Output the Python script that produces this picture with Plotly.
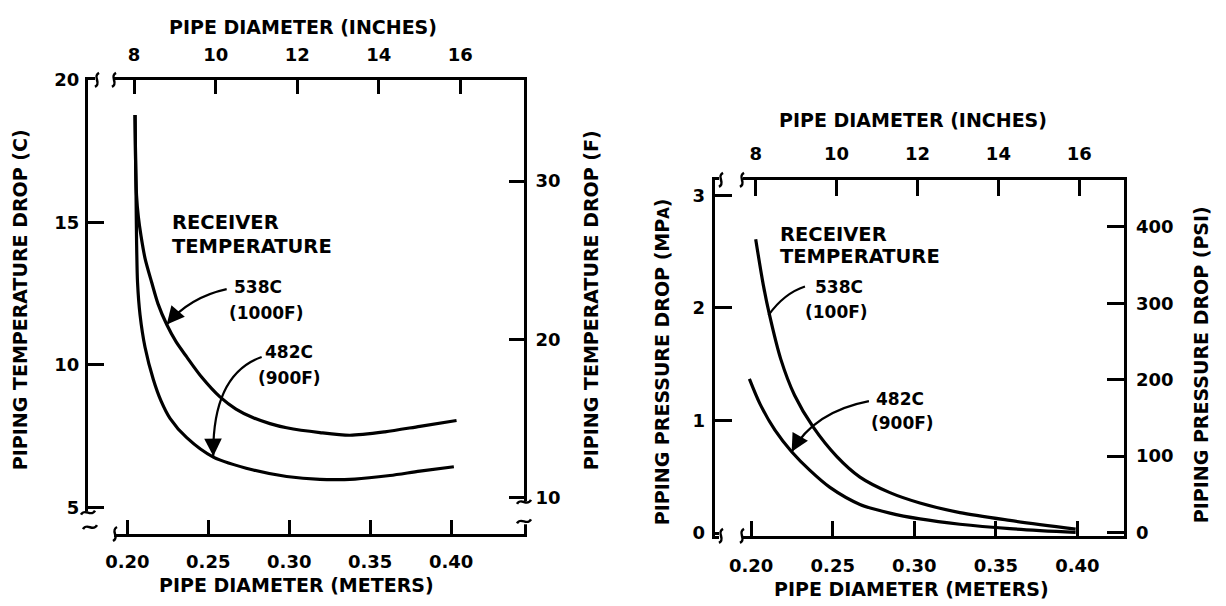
import plotly.graph_objects as go

# ---------------- data ----------------
# Left panel: piping temperature drop (C) vs pipe diameter (m)
temp_d_538 = [0.20475, 0.20506, 0.20568, 0.20679, 0.20846, 0.21093, 0.21506, 0.21895,
              0.22432, 0.23006, 0.23667, 0.24611, 0.25722, 0.26710, 0.27778, 0.28809,
              0.29840, 0.31895, 0.33747, 0.35907, 0.38068, 0.40333]
temp_c_538 = [18.765, 17.313, 15.952, 15.204, 14.524, 13.741, 12.891, 12.143,
              11.418, 10.816, 10.282, 9.558, 8.878, 8.452, 8.146, 7.942,
              7.796, 7.626, 7.534, 7.653, 7.847, 8.051]
temp_d_482 = [0.20475, 0.20506, 0.20537, 0.20568, 0.20630, 0.20784, 0.21093, 0.21605,
              0.22080, 0.22636, 0.23667, 0.25309, 0.27778, 0.29840, 0.31895, 0.34056,
              0.36216, 0.38068, 0.40167]
temp_c_482 = [18.765, 17.313, 15.952, 14.422, 12.891, 11.759, 10.622, 9.490,
              8.741, 8.129, 7.449, 6.769, 6.316, 6.088, 5.986, 5.997,
              6.122, 6.276, 6.429]

# Right panel: piping pressure drop (MPa) vs pipe diameter (m)
pres_d_538 = [0.20276, 0.20741, 0.21127, 0.21808, 0.22659, 0.23805, 0.25239, 0.26667,
              0.28505, 0.30343, 0.32794, 0.35858, 0.39890]
pres_mpa_538 = [2.610, 2.205, 1.935, 1.547, 1.224, 0.940, 0.681, 0.497,
                0.359, 0.267, 0.181, 0.112, 0.035]
pres_d_482 = [0.19890, 0.20539, 0.21458, 0.22482, 0.23603, 0.24828, 0.26667, 0.28505,
              0.30343, 0.32794, 0.35858, 0.39890]
pres_mpa_482 = [1.369, 1.147, 0.914, 0.722, 0.556, 0.405, 0.254, 0.177,
                0.125, 0.078, 0.039, 0.005]

# tick values / labels
meter_ticks = [0.20, 0.25, 0.30, 0.35, 0.40]
meter_labels = ["0.20", "0.25", "0.30", "0.35", "0.40"]
inch_ticks = [8, 10, 12, 14, 16]
c_ticks = [5, 10, 15, 20]
f_ticks = [10, 20, 30]
mpa_ticks = [0, 1, 2, 3]
psi_ticks = [0, 100, 200, 300, 400]

# ---------------- style ----------------
W, H = 1226, 606
FONT = "DejaVu Sans"
BLACK = "black"


def px(x):
    return x / W


def py(y):
    return 1 - y / H


def axis_style(**kw):
    d = dict(showline=True, linecolor=BLACK, linewidth=3, ticks="inside",
             tickcolor=BLACK, tickwidth=2.5, ticklen=15, showgrid=False,
             zeroline=False, fixedrange=True,
             tickfont=dict(family=FONT, size=18, color=BLACK, weight="bold"))
    d.update(kw)
    return d


fig = go.Figure()
line_style = dict(color=BLACK, width=3.2, shape="spline", smoothing=0.8)

fig.add_trace(go.Scatter(x=temp_d_538, y=temp_c_538, xaxis="x", yaxis="y", mode="lines",
                         line=line_style, hoverinfo="skip", showlegend=False))
fig.add_trace(go.Scatter(x=temp_d_482, y=temp_c_482, xaxis="x", yaxis="y", mode="lines",
                         line=line_style, hoverinfo="skip", showlegend=False))
fig.add_trace(go.Scatter(x=pres_d_538, y=pres_mpa_538, xaxis="x3", yaxis="y3", mode="lines",
                         line=line_style, hoverinfo="skip", showlegend=False))
fig.add_trace(go.Scatter(x=pres_d_482, y=pres_mpa_482, xaxis="x3", yaxis="y3", mode="lines",
                         line=line_style, hoverinfo="skip", showlegend=False))
# empty traces so the secondary (inch / F / psi) axes get drawn
for xa, ya in [("x2", "y2"), ("x4", "y4")]:
    fig.add_trace(go.Scatter(x=[], y=[], xaxis=xa, yaxis=ya, showlegend=False))

left_dom_x = [px(88), px(524)]
left_dom_y = [py(539), py(71)]
right_dom_x = [px(714.7), px(1124.4)]
right_dom_y = [py(541), py(174)]

fig.update_layout(
    width=W, height=H, margin=dict(l=0, r=0, t=0, b=0),
    paper_bgcolor="white", plot_bgcolor="white", showlegend=False,
    font=dict(family=FONT, color=BLACK),
    xaxis=axis_style(domain=left_dom_x, anchor="y", range=[0.1757, 0.445],
                     tickvals=meter_ticks, ticktext=meter_labels, ticklen=14,
                     ticklabelstandoff=9),
    xaxis2=axis_style(overlaying="x", side="top", anchor="y", range=[6.87, 17.56],
                      tickvals=inch_ticks, ticklen=14, ticklabelstandoff=9),
    yaxis=axis_style(domain=left_dom_y, anchor="x", range=[4.07, 20.0],
                     tickvals=c_ticks, ticklen=16, ticklabelstandoff=2),
    yaxis2=axis_style(overlaying="y", side="right", anchor="x", range=[7.69, 36.40],
                      tickvals=f_ticks, ticklen=15, ticklabelstandoff=5),
    xaxis3=axis_style(domain=right_dom_x, anchor="y3", range=[0.17763, 0.4288],
                      tickvals=meter_ticks, ticktext=meter_labels, ticklen=15,
                      ticklabelstandoff=11),
    xaxis4=axis_style(overlaying="x3", side="top", anchor="y3", range=[6.986, 17.115],
                      tickvals=inch_ticks, ticklen=16, ticklabelstandoff=10),
    yaxis3=axis_style(domain=right_dom_y, anchor="x3", range=[-0.026, 3.138],
                      tickvals=mpa_ticks, ticklen=17, ticklabelstandoff=3),
    yaxis4=axis_style(overlaying="y3", side="right", anchor="x3", range=[-4.6, 461.6],
                      tickvals=psi_ticks, ticklen=17, ticklabelstandoff=5),
)

# ---------------- titles ----------------
TITLE_FONT = dict(family=FONT, size=19, color=BLACK, weight="bold")
titles = [
    ("PIPE DIAMETER (INCHES)", 303, 17, 0),
    ("PIPE DIAMETER (METERS)", 296, 592, 0),
    ("PIPING TEMPERATURE DROP (C)", 20, 298, -90),
    ("PIPING TEMPERATURE DROP (F)", 591, 298, -90),
    ("PIPE DIAMETER (INCHES)", 913, 112, 0),
    ("PIPE DIAMETER (METERS)", 911, 596, 0),
    ("PIPING PRESSURE DROP (MP<span style='font-size:15px'>A</span>)", 662, 362, -90),
    ("PIPING PRESSURE DROP (PSI)", 1201, 365, -90),
]
for text, tx, ty, ang in titles:
    fig.add_annotation(text=text, x=px(tx), y=py(ty), xref="paper", yref="paper",
                       showarrow=False, textangle=ang, font=TITLE_FONT,
                       xanchor="center", yanchor="middle")

# ---------------- in-plot labels ----------------
HEAD_FONT = dict(family=FONT, size=19.5, color=BLACK, weight="bold")
LABEL_FONT = dict(family=FONT, size=17, color=BLACK, weight="bold")
labels = [
    # (text, x, y, xref, yref, xanchor, font)
    ("RECEIVER", 0.22636, 14.99, "x", "y", "left", HEAD_FONT),
    ("TEMPERATURE", 0.22636, 14.14, "x", "y", "left", HEAD_FONT),
    ("538C", 0.28086, 12.72, "x", "y", "center", LABEL_FONT),
    ("(1000F)", 0.28549, 11.81, "x", "y", "center", LABEL_FONT),
    ("482C", 0.29994, 10.45, "x", "y", "center", LABEL_FONT),
    ("(900F)", 0.30043, 9.55, "x", "y", "center", LABEL_FONT),
    ("RECEIVER", 0.21661, 2.655, "x3", "y3", "left", HEAD_FONT),
    ("TEMPERATURE", 0.21661, 2.457, "x3", "y3", "left", HEAD_FONT),
    ("538C", 0.25411, 2.190, "x3", "y3", "center", LABEL_FONT),
    ("(100F)", 0.25213, 1.966, "x3", "y3", "center", LABEL_FONT),
    ("482C", 0.29093, 1.187, "x3", "y3", "center", LABEL_FONT),
    ("(900F)", 0.29256, 0.978, "x3", "y3", "center", LABEL_FONT),
]
for text, lx, ly, xr, yr, xa, fnt in labels:
    fig.add_annotation(text=text, x=lx, y=ly, xref=xr, yref=yr, showarrow=False,
                       font=fnt, xanchor=xa, yanchor="middle")

# ---------------- curved pointer arrows ----------------
arrows = [
    # (tail, control, head, xref, yref)
    ((0.26136, 12.66), (0.23870, 12.38), (0.22432, 11.42), "x", "y"),
    ((0.28296, 10.28), (0.25228, 9.66), (0.25309, 6.80), "x", "y"),
    ((0.23297, 2.190), (0.22010, 2.129), (0.21060, 1.935), "x3", "y3"),
    ((0.27218, 1.172), (0.23848, 1.078), (0.22482, 0.722), "x3", "y3"),
]
for (t, c, h, xr, yr) in arrows:
    fig.add_shape(type="path", xref=xr, yref=yr,
                  path=f"M {t[0]},{t[1]} Q {c[0]},{c[1]} {h[0]},{h[1]}",
                  line=dict(color=BLACK, width=2.2))
    f = 0.22
    fig.add_annotation(x=h[0], y=h[1], ax=h[0] + f * (c[0] - h[0]), ay=h[1] + f * (c[1] - h[1]),
                       xref=xr, yref=yr, axref=xr, ayref=yr, text="", showarrow=True,
                       arrowhead=2, arrowsize=1.6, arrowwidth=2.2, arrowcolor=BLACK,
                       standoff=0)

# ---------------- axis breaks ----------------
gaps = [  # (x0, y0, x1, y1) in pixels
    (95, 66, 114, 76),
    (82, 516, 114, 545),
    (518, 505, 530, 529),
    (719, 169, 743, 179),
    (719, 536, 743, 546),
]
for x0, y0, x1, y1 in gaps:
    fig.add_shape(type="rect", xref="paper", yref="paper", x0=px(x0), x1=px(x1),
                  y0=py(y1), y1=py(y0), fillcolor="white", line=dict(width=0),
                  layer="above")

VSQ = "M -2,-7 C 5,-3 -5,3 2,7"   # squiggle across a horizontal line
HSQ = "M -7,-2 C -3,5 3,-5 7,2"   # squiggle across a vertical line
squiggles = [
    (97, 71, VSQ), (114, 71, VSQ),
    (88, 517, HSQ), (90, 532, HSQ), (115, 539, VSQ),
    (524, 506, HSQ), (524, 526, HSQ),
    (721, 174, VSQ), (742, 174, VSQ),
    (721, 541, VSQ), (742, 541, VSQ),
]
for sx, sy, p in squiggles:
    fig.add_shape(type="path", xref="paper", yref="paper", xsizemode="pixel",
                  ysizemode="pixel", xanchor=px(sx), yanchor=py(sy), path=p,
                  line=dict(color=BLACK, width=2.5), layer="above")

fig.write_html("out.html", post_script="document.body.style.margin='0';",
               config={"displayModeBar": False})
